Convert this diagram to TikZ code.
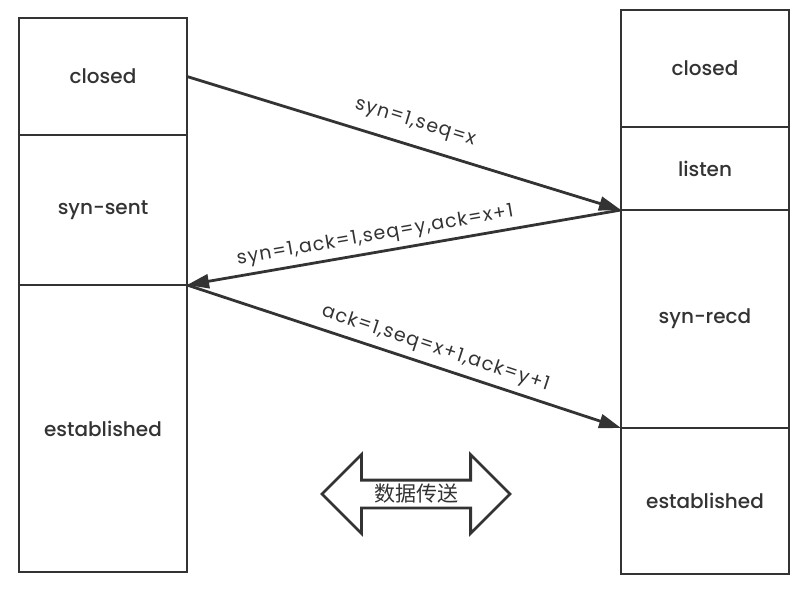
\documentclass[tikz,border=0pt]{standalone}
\usepackage{fontspec}
\IfFontExistsTF{Poppins Medium}
  {\setmainfont{Poppins Medium}}
  {\setmainfont{Poppins}}
\newfontfamily\lblfont[LetterSpace=6]{Poppins}
\newfontfamily\cjk{Noto Sans CJK SC}
\usetikzlibrary{arrows.meta, positioning, shapes.arrows}
\definecolor{linegray}{HTML}{333333}

\begin{document}
\begin{tikzpicture}[
  x=1pt, y=-1pt,
  state/.style={draw=linegray, line width=2.8pt, outer sep=0pt, inner sep=0pt, minimum width=168pt, font=\fontsize{20}{22}\selectfont, text=linegray},
  msg/.style={-{Triangle[length=22pt,width=14pt]}, draw=linegray, line width=2.8pt},
  lbl/.style={font=\lblfont\fontsize{19}{21}\selectfont, text=linegray, sloped, above},
  flowarrow/.style={double arrow, draw=linegray, line width=2.8pt, inner xsep=0pt, inner ysep=12.5pt, minimum height=188pt, double arrow head extend=25.5pt}
]
\useasboundingbox (0,0) rectangle (810,597);

% Left column: client states
\node[state, minimum height=117pt, anchor=north west] (lclosed) at (19,18) {closed};
\node[state, minimum height=150pt, below=0pt of lclosed] (lsent) {syn-sent};
\node[state, minimum height=287pt, below=0pt of lsent] (lest) {established};

% Right column: server states
\node[state, minimum height=117pt, anchor=north west] (rclosed) at (621,10) {closed};
\node[state, minimum height=83pt, below=0pt of rclosed] (rlisten) {listen};
\node[state, minimum height=218pt, below=0pt of rlisten] (rrecd) {syn-recd};
\node[state, minimum height=146pt, below=0pt of rrecd] (rest) {established};

% Handshake messages
\draw[msg] (lclosed.east) -- node[lbl, pos=0.51, above=9pt] {syn=1,seq=x} (rlisten.south west);
\draw[msg] (rlisten.south west) -- node[lbl, pos=0.56, above=2pt] {syn=1,ack=1,seq=y,ack=x+1} (lsent.south east);
\draw[msg] (lsent.south east) -- node[lbl, pos=0.56, above=3pt] {ack=1,seq=x+1,ack=y+1} (rrecd.south west);

% Data transfer
\node[flowarrow] (flow) at (416,494) {};
\node[font=\cjk\fontsize{21}{23}\selectfont, text=linegray] (flowtext) at (flow.center) {数据传送};

\end{tikzpicture}
\end{document}
